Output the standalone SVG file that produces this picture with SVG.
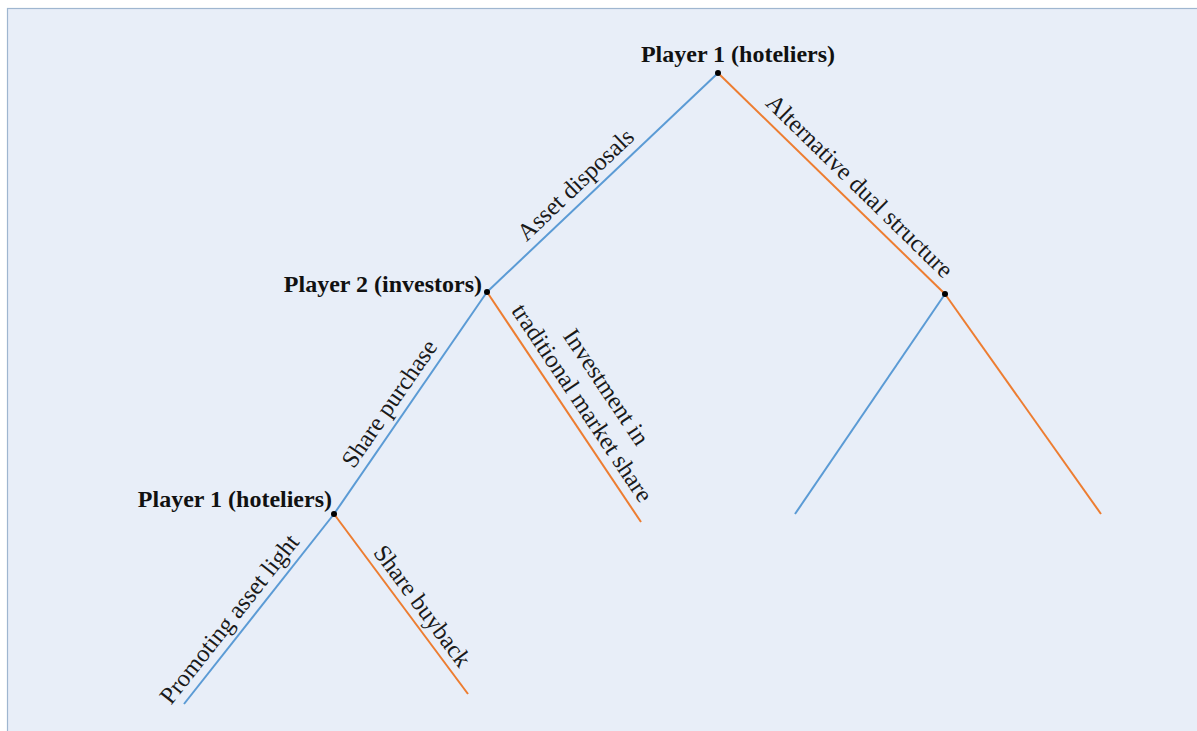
<svg xmlns="http://www.w3.org/2000/svg" width="1197" height="731" viewBox="0 0 1197 731">
<style>
.bg{fill:#e8eef8;stroke:#9fb6d0;stroke-width:1.2}
.blue{stroke:#5b9bd5;stroke-width:2;fill:none}
.orange{stroke:#ed7d31;stroke-width:2;fill:none}
.dot{fill:#000}
.player{font-family:"Liberation Serif","Times New Roman",serif;font-weight:bold;font-size:24px;fill:#111}
.lbl{font-family:"Liberation Serif","Times New Roman",serif;font-size:24.5px;fill:#1a1a1a;text-anchor:middle}
</style>
<rect x="0" y="0" width="1197" height="731" fill="#ffffff"/>
<rect class="bg" x="7.5" y="8.5" width="1195" height="730"/>
<g id="connectors">
<line class="blue" x1="718" y1="73" x2="487" y2="292"/>
<line class="orange" x1="718" y1="73" x2="945" y2="294"/>
<line class="blue" x1="487" y1="292" x2="334" y2="514"/>
<line class="orange" x1="487" y1="292" x2="641" y2="522"/>
<line class="blue" x1="334" y1="514" x2="184" y2="704"/>
<line class="orange" x1="334" y1="514" x2="468" y2="694"/>
<line class="blue" x1="945" y1="294" x2="795" y2="514"/>
<line class="orange" x1="945" y1="294" x2="1101" y2="514"/>
<text class="lbl" transform="translate(587.3,196.9) rotate(-43.5)" y="-9">Asset disposals</text>
<text class="lbl" transform="translate(847,199) rotate(44.4)" y="-10">Alternative dual structure</text>
<text class="lbl" transform="translate(403.4,413.3) rotate(-55.4)" y="-9">Share purchase</text>
<text class="lbl" transform="translate(568,412.5) rotate(56.2)"><tspan x="0" y="-38">Investment in</tspan><tspan x="0" y="-9">traditional market share</tspan></text>
<text class="lbl" transform="translate(242.7,629.6) rotate(-51.7)" y="-9">Promoting asset light</text>
<text class="lbl" transform="translate(409.5,615.5) rotate(53.3)" y="-8">Share buyback</text>
</g>
<g id="node-root">
<circle class="dot" cx="718" cy="73" r="3"/>
<text class="player" x="738" y="62" text-anchor="middle">Player 1 (hoteliers)</text>
</g>
<g id="node-p2">
<circle class="dot" cx="487" cy="292" r="3"/>
<text class="player" x="482" y="292" text-anchor="end">Player 2 (investors)</text>
</g>
<g id="node-p1-lower">
<circle class="dot" cx="334" cy="514" r="3"/>
<text class="player" x="332" y="507" text-anchor="end">Player 1 (hoteliers)</text>
</g>
<g id="node-right">
<circle class="dot" cx="945" cy="294" r="3"/>
</g>
</svg>
